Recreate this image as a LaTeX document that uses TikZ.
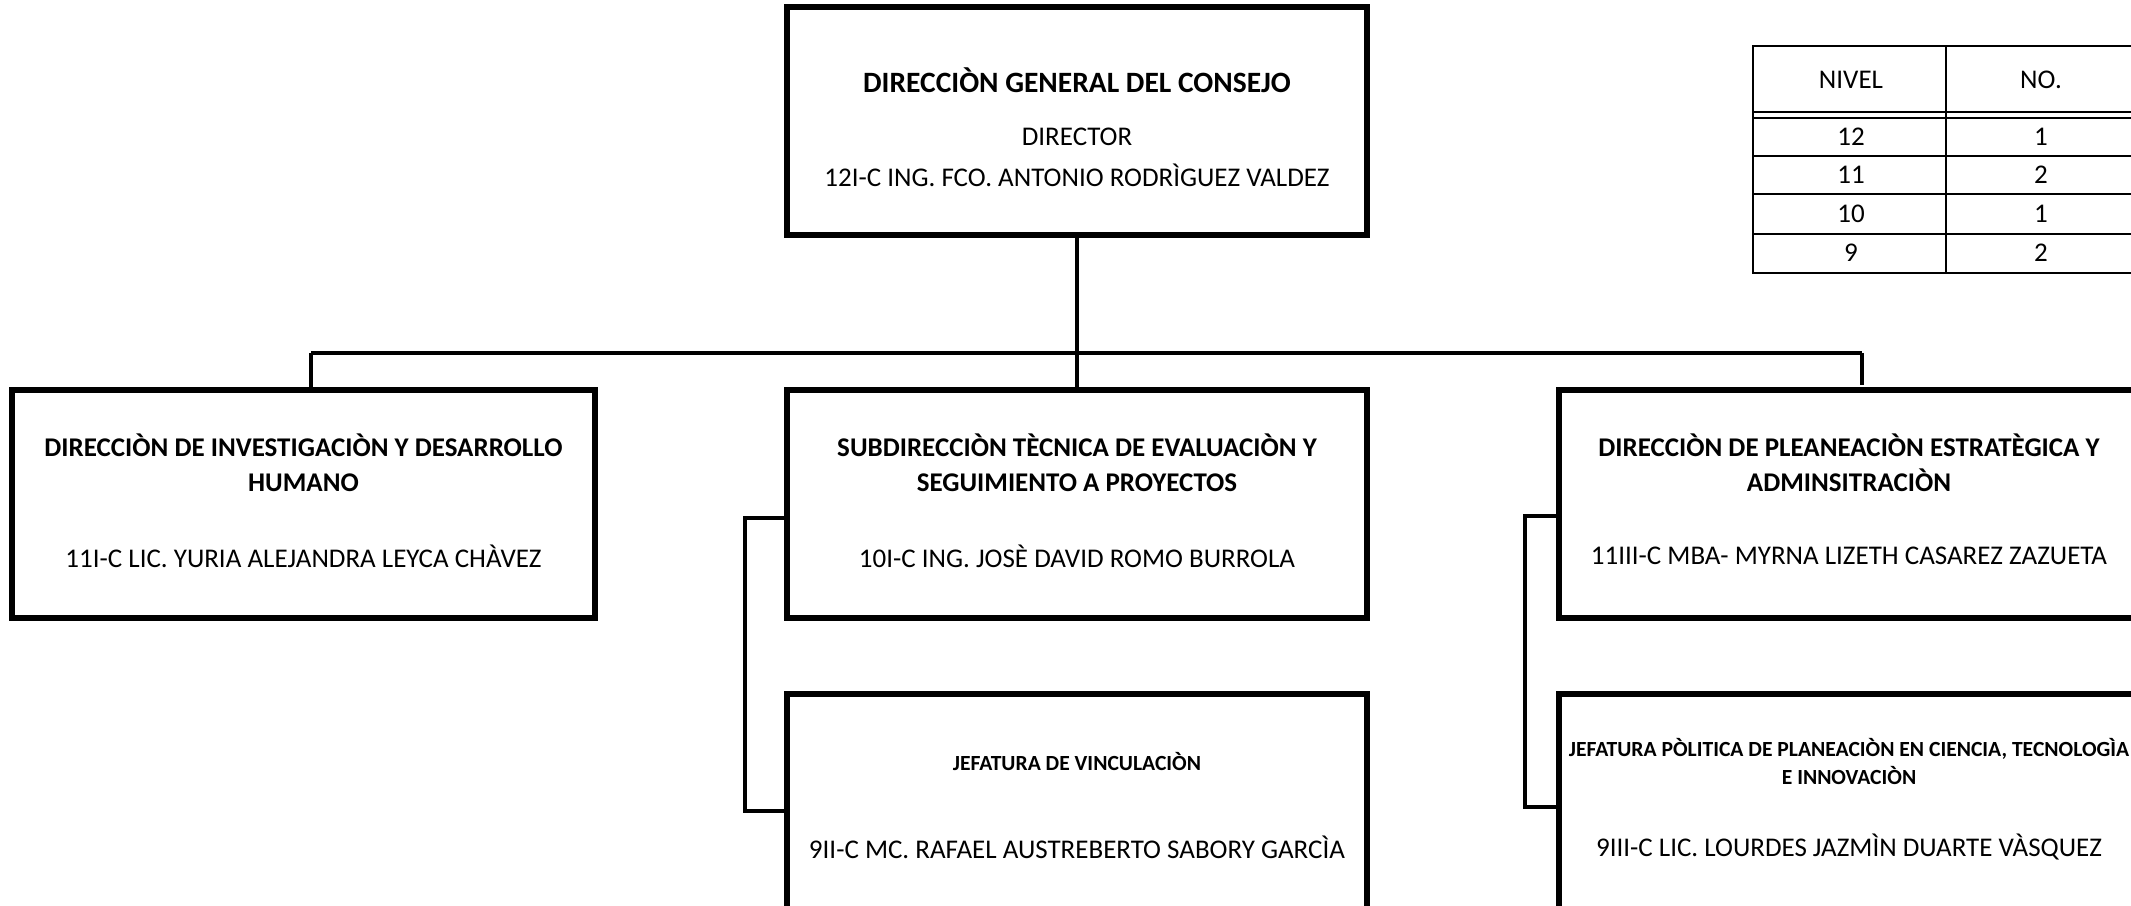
\documentclass[tikz,border=0pt]{standalone}
\usepackage{fontspec}
\setmainfont{Carlito}
\begin{document}
\begin{tikzpicture}[x=1pt,y=-1pt,
  box/.style={draw,line width=6pt,minimum width=580pt,minimum height=228pt,inner sep=0pt},
  bt/.style={font=\bfseries\fontsize{27}{35}\selectfont,align=center,inner sep=0pt},
  tbt/.style={font=\bfseries\fontsize{29.5}{35}\selectfont,align=center,inner sep=0pt},
  st/.style={font=\bfseries\fontsize{21.6}{28}\selectfont,align=center,inner sep=0pt},
  rt/.style={font=\fontsize{27}{33}\selectfont,align=center,inner sep=0pt},
  tt/.style={font=\fontsize{27}{33}\selectfont,inner sep=0pt},
  conn/.style={line width=3.5pt},
  tline/.style={line width=2.5pt}]
\useasboundingbox (0,0) rectangle (2131,905);
\clip (0,0) rectangle (2131,905);
% boxes
\node[box] (top) at (1077,121) {};
\node[box,minimum width=583pt] (left) at (303.5,504) {};
\node[box] (mid) at (1077,504) {};
\node[box] (right) at (1849,504) {};
\node[box] (mid3) at (1077,808) {};
\node[box] (right3) at (1849,808) {};
% texts
\node[tbt] (toptitle) at (1077,80) {DIRECCIÒN GENERAL DEL CONSEJO};
\node[rt] (topdir) at (1077,137) {DIRECTOR};
\node[rt] (topname) at (1077,175) {12I-C ING. FCO. ANTONIO RODRÌGUEZ VALDEZ};
\node[bt] (lefttitle) at (303.5,463) {DIRECCIÒN DE INVESTIGACIÒN Y DESARROLLO\\HUMANO};
\node[rt] (leftname) at (303.5,556) {11I-C LIC. YURIA ALEJANDRA LEYCA CHÀVEZ};
\node[bt] (midtitle) at (1077,463) {SUBDIRECCIÒN TÈCNICA DE EVALUACIÒN Y\\SEGUIMIENTO A PROYECTOS};
\node[rt] (midname) at (1077,556) {10I-C ING. JOSÈ DAVID ROMO BURROLA};
\node[bt] (righttitle) at (1849,463) {DIRECCIÒN DE PLEANEACIÒN ESTRATÈGICA Y\\ADMINSITRACIÒN};
\node[rt] (rightname) at (1849,556) {11III-C MBA- MYRNA LIZETH CASAREZ ZAZUETA};
\node[st] (mid3title) at (1077,761) {JEFATURA DE VINCULACIÒN};
\node[rt] (mid3name) at (1077,847) {9II-C MC. RAFAEL AUSTREBERTO SABORY GARCÌA};
\node[st] (right3title) at (1849,761) {JEFATURA PÒLITICA DE PLANEACIÒN EN CIENCIA, TECNOLOGÌA\\E INNOVACIÒN};
\node[rt] (right3name) at (1849,847) {9III-C LIC. LOURDES JAZMÌN DUARTE VÀSQUEZ};
% connectors
\coordinate (hl) at (311,353);
\coordinate (hr) at (1862,353);
\coordinate (hrend) at (1862,385);
\draw[conn] (top.south) -- (mid.north);
\draw[conn] (hl) -- (hr);
\draw[conn] (hl) -- (hl |- left.north);
\draw[conn] (hr) -- (hrend);
\coordinate (m1) at (745,518);
\coordinate (m2) at (745,811);
\draw[conn] (m1 -| mid.west) -- (m1) -- (m2) -- (m2 -| mid3.west);
\coordinate (r1) at (1525,516);
\coordinate (r2) at (1525,807);
\draw[conn] (r1 -| right.west) -- (r1) -- (r2) -- (r2 -| right3.west);
% table
\draw[tline] (1753,46) rectangle (2139,273);
\draw[tline] (1946,46) -- (1946,273);
\draw[tline] (1753,112) -- (2139,112);
\draw[tline] (1753,118) -- (2139,118);
\draw[tline] (1753,156) -- (2139,156);
\draw[tline] (1753,194) -- (2139,194);
\draw[tline] (1753,234) -- (2139,234);
\node[tt] (hniv) at (1851,80) {NIVEL};
\node[tt] (hno) at (2041,80) {NO.};
\node[tt] (n12) at (1851,137) {12};
\node[tt] (c12) at (2041,137) {1};
\node[tt] (n11) at (1851,175) {11};
\node[tt] (c11) at (2041,175) {2};
\node[tt] (n10) at (1851,214) {10};
\node[tt] (c10) at (2041,214) {1};
\node[tt] (n9) at (1851,253) {9};
\node[tt] (c9) at (2041,253) {2};
\end{tikzpicture}
\end{document}
